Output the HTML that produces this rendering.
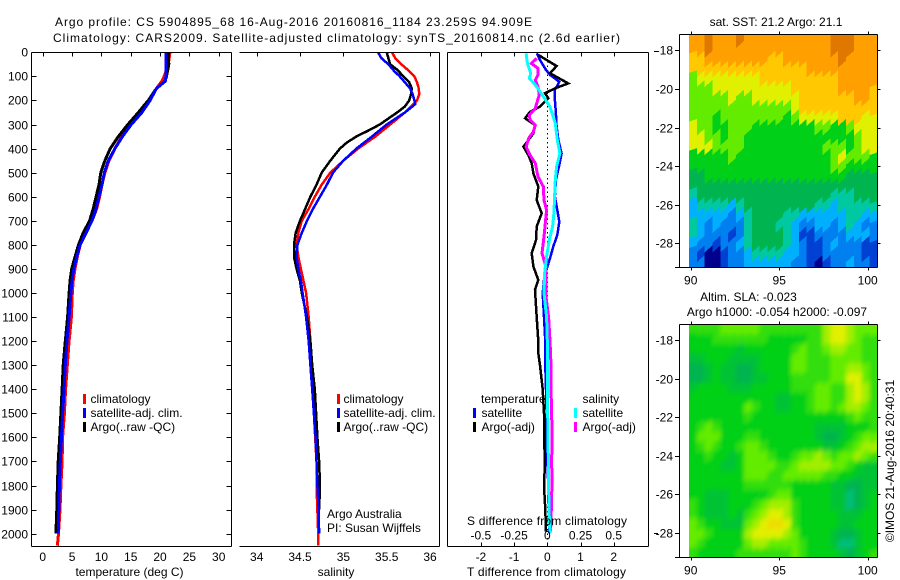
<!DOCTYPE html>
<html>
<head>
<meta charset="utf-8">
<title>Argo profile chart</title>
<style>
html,body{margin:0;padding:0;background:#fff;}
svg{display:block;}
text{font-family:"Liberation Sans",sans-serif;font-size:12px;fill:#000;}
</style>
</head>
<body>
<svg id="chart" xmlns="http://www.w3.org/2000/svg" width="900" height="580" viewBox="0 0 900 580">
<defs>
<clipPath id="clip-sst"><rect x="689" y="35" width="188" height="233"/></clipPath>
<clipPath id="clip-sla"><rect x="689" y="325" width="188" height="233"/></clipPath>
<filter id="soften" x="-10%" y="-10%" width="120%" height="120%"><feGaussianBlur stdDeviation="2"/></filter>
</defs>
<rect x="0" y="0" width="900" height="580" fill="#fff"/>
<text x="55" y="26" textLength="477" lengthAdjust="spacing">Argo profile: CS 5904895_68 16-Aug-2016 20160816_1184 23.259S 94.909E</text>
<text x="53" y="42" textLength="567" lengthAdjust="spacing">Climatology: CARS2009. Satellite-adjusted climatology: synTS_20160814.nc (2.6d earlier)</text>
<g id="plots"></g>
<g>
<rect x="83" y="394" width="3" height="10" fill="#f00"/>
<rect x="83" y="408" width="3" height="10" fill="#00f"/>
<rect x="83" y="422" width="3" height="10" fill="#000"/>
<text x="90.5" y="403">climatology</text>
<text x="90.5" y="417">satellite-adj. clim.</text>
<text x="90.5" y="431">Argo(..raw -QC)</text>
</g>
<g>
<rect x="337" y="394" width="3" height="10" fill="#f00"/>
<rect x="337" y="408" width="3" height="10" fill="#00f"/>
<rect x="337" y="422" width="3" height="10" fill="#000"/>
<text x="343.5" y="403">climatology</text>
<text x="343.5" y="417">satellite-adj. clim.</text>
<text x="343.5" y="431">Argo(..raw -QC)</text>
<text x="327" y="518">Argo Australia</text>
<text x="327" y="532">PI: Susan Wijffels</text>
</g>
<g>
<text x="481" y="403">temperature</text>
<text x="582.5" y="403">salinity</text>
<rect x="473" y="408" width="3" height="10" fill="#00f"/>
<rect x="473" y="422" width="3" height="10" fill="#000"/>
<rect x="574" y="408" width="3" height="10" fill="#0ff"/>
<rect x="574" y="422" width="3" height="10" fill="#f0f"/>
<text x="481.5" y="417">satellite</text>
<text x="481.5" y="431">Argo(-adj)</text>
<text x="582.5" y="417">satellite</text>
<text x="582.5" y="431">Argo(-adj)</text>
</g>
<text x="467" y="525" textLength="160" lengthAdjust="spacing">S difference from climatology</text>
<text x="467" y="576" textLength="159" lengthAdjust="spacing">T difference from climatology</text>
<text x="129.5" y="576" text-anchor="middle">temperature (deg C)</text>
<text x="336" y="576" text-anchor="middle">salinity</text>
<text x="776" y="26" text-anchor="middle">sat. SST: 21.2  Argo: 21.1</text>
<text x="748.5" y="301" text-anchor="middle">Altim. SLA: -0.023</text>
<text x="777" y="316" text-anchor="middle">Argo h1000: -0.054 h2000: -0.097</text>
<text transform="translate(894,461) rotate(-90)" text-anchor="middle">©IMOS 21-Aug-2016 20:40:31</text>
</svg>
<script>
// ---- axis tick labels ----
const depthTicks = [0,100,200,300,400,500,600,700,800,900,1000,1100,1200,1300,1400,1500,1600,1700,1800,1900,2000];
const tempTicks = [0,5,10,15,20,25,30];
const salTicks = [34,34.5,35,35.5,36];
const tDiffTicks = [-2,-1,0,1,2];
const sDiffTicks = [-0.5,-0.25,0,0.25,0.5];
const lonTicks = [90,95,100];
const latTicks = [-18,-20,-22,-24,-26,-28];

// ---- temperature profiles ----
const tempDepths = [0,50,100,120,150,200,250,300,350,400,450,500,550,600,650,700,750,800,850,900,950,1000,1100,1200,1300,1400,1500,1600,1700,1800,1900,2000];
const tempClimDepths = [0,50,100,120,150,200,250,300,350,400,450,500,550,600,650,700,750,800,850,900,950,1000,1100,1200,1300,1400,1500,1600,1700,1800,1900,2000,2050];
const tempClim = [21.7,21.4,20.7,20.3,19.4,18.2,16.6,15.0,13.5,12.3,11.3,10.6,10.1,9.7,9.2,8.4,7.4,6.4,5.9,5.5,5.2,5.05,4.9,4.5,4.2,3.9,3.7,3.4,3.3,3.1,2.95,2.7,2.5];
const tempArgo = [21.4,21.5,21.1,20.85,19.4,18.0,16.3,14.5,12.9,11.5,10.6,9.9,9.6,9.1,8.6,8.0,6.9,6.1,5.5,4.95,4.65,4.5,4.25,3.85,3.5,3.3,3.1,2.9,2.65,2.5,2.4,2.25];
const tempSat = [21.0,21.0,21.0,20.9,19.4,18.3,16.9,15.1,13.6,12.3,11.2,10.5,10.1,9.6,9.1,8.4,7.4,6.4,5.8,5.3,5.0,4.8,4.5,4.15,3.85,3.65,3.4,3.2,3.0,2.85,2.75,2.65];

// ---- salinity profiles ----
const salDepths = [0,25,50,75,100,125,150,175,200,215,250,300,350,400,450,500,550,600,650,700,750,800,850,900,950,1000,1100,1200,1300,1400,1500,1600,1700,1800,1900,2000];
const salClimDepths = [0,25,50,75,100,125,150,175,200,215,250,300,350,400,450,500,550,600,650,700,750,800,850,900,950,1000,1100,1200,1300,1400,1500,1600,1700,1800,1900,2000,2050];
const salClim = [35.56,35.6,35.67,35.75,35.82,35.85,35.87,35.875,35.85,35.81,35.71,35.54,35.37,35.17,35.0,34.85,34.75,34.67,34.6,34.52,34.48,34.46,34.48,34.51,34.54,34.57,34.6,34.62,34.63,34.65,34.66,34.675,34.69,34.69,34.70,34.71,34.71];
const salSat = [35.40,35.44,35.52,35.58,35.65,35.71,35.77,35.80,35.82,35.83,35.71,35.5,35.33,35.15,35.0,34.88,34.81,34.73,34.65,34.58,34.52,34.47,34.46,34.48,34.51,34.53,34.57,34.6,34.62,34.64,34.66,34.68,34.69,34.70,34.715,34.72];
const salArgoDepths = [0,25,50,75,100,125,150,175,200,225,250,275,300,325,350,375,400,450,500,550,600,650,700,750,800,850,900,950,1000,1100,1200,1300,1400,1500,1600,1700,1800,1900];
const salArgo = [35.5,35.52,35.54,35.63,35.69,35.76,35.79,35.78,35.76,35.71,35.62,35.52,35.42,35.29,35.15,35.04,34.96,34.85,34.75,34.69,34.62,34.56,34.5,34.45,34.43,34.43,34.46,34.5,34.52,34.58,34.62,34.64,34.67,34.685,34.7,34.72,34.73,34.72];

// ---- difference profiles ----
const tDiffSatDepths = [4,32,73,94,122,157,198,253,309,364,420,468,530,600,655,704,759,807,856,891,946,1001,1100,1200,1300,1400,1500,1600,1700,1800,1900,2000];
const tDiffSat = [-0.32,-0.22,-0.04,0.08,0.36,0.23,0.23,0.26,0.28,0.33,0.43,0.36,0.26,0.23,0.30,0.36,0.30,0.18,0.08,0,-0.10,-0.14,-0.10,-0.06,-0.06,-0.04,-0.02,-0.02,0,0.03,0.04,0.06];
const tDiffArgoDepths = [11,32,57,87,129,150,170,191,226,247,274,302,337,392,427,461,503,558,614,669,724,780,835,890,946,987,1100,1200,1250,1300,1400,1500,1600,1700,1800,1900,1990];
const tDiffArgo = [-0.27,-0.02,0.28,0.08,0.63,0.23,-0.07,0.03,-0.22,-0.52,-0.67,-0.37,-0.42,-0.72,-0.57,-0.47,-0.42,-0.27,-0.32,-0.17,-0.32,-0.34,-0.47,-0.42,-0.27,-0.37,-0.32,-0.27,-0.27,-0.22,-0.14,-0.10,-0.10,-0.07,-0.10,-0.06,-0.04];
const sDiffSatDepths = [4,46,87,108,143,184,226,295,364,420,475,530,600,669,724,780,849,918,1001,1100,1200,1300,1400,1500,1600,1700,1800,1900,2000];
const sDiffSat = [-0.16,-0.15,-0.125,-0.135,-0.08,-0.03,0.02,0.06,0.075,0.095,0.07,0.06,0.055,0.05,0.04,0.015,-0.005,-0.02,-0.025,-0.005,0,0,0,0.003,0.005,0.008,0.01,0.013,0.02];
const sDiffArgoDepths = [25,46,67,94,115,143,177,212,233,260,281,302,330,357,392,427,461,517,558,614,655,710,766,835,890,946,1015,1100,1200,1300,1400,1500,1600,1700,1800,1900,1990];
const sDiffArgo = [-0.08,-0.12,-0.07,-0.07,-0.09,-0.07,-0.06,-0.08,-0.09,-0.135,-0.13,-0.09,-0.105,-0.14,-0.16,-0.13,-0.09,-0.07,-0.03,-0.025,-0.005,-0.015,-0.025,-0.04,-0.01,-0.01,-0.01,0.01,0.02,0.028,0.028,0.033,0.035,0.033,0.035,0.03,0.025];

// ---- map grids (colour level per cell, north to south) ----
const sstGrid = [
[10,10,11,10,10,10,11,10,10,10,10,10,10,10,10,10,10,10,11,11,11,10,10,10],
[10,10,11,10,10,10,10,10,10,10,10,10,10,10,10,10,10,10,11,11,11,10,10,10],
[9,9,10,10,10,10,10,10,10,10,9,9,10,10,10,10,10,10,10,11,10,10,10,10],
[9,9,9,9,9,9,9,9,9,9,9,9,9,9,9,10,10,10,10,10,10,10,10,10],
[7,8,8,8,8,8,8,8,8,9,9,9,9,9,9,9,9,9,9,10,10,10,10,10],
[7,7,7,8,8,8,8,8,8,8,8,8,8,9,9,9,9,9,9,10,10,10,10,9],
[7,7,7,7,7,8,7,7,8,8,8,8,8,8,9,9,9,9,9,9,9,10,10,9],
[7,7,7,7,7,7,7,7,7,7,7,7,7,8,9,9,9,9,9,9,9,9,9,9],
[7,7,7,6,7,7,7,7,7,7,7,7,6,7,8,8,8,8,8,9,9,9,8,8],
[8,7,7,6,6,7,7,7,6,6,6,6,6,6,6,6,7,7,6,6,7,8,8,8],
[8,8,7,7,6,7,7,6,6,6,6,6,6,6,6,6,6,6,6,6,6,7,8,8],
[8,8,8,7,7,7,7,6,6,6,6,6,6,6,6,6,6,7,7,7,6,7,8,8],
[6,6,6,6,6,7,6,6,6,6,6,6,6,6,6,6,6,6,7,8,7,7,7,6],
[6,6,6,6,6,6,6,6,6,6,6,6,6,6,6,6,6,6,7,7,6,6,6,6],
[5,5,6,6,6,6,6,6,6,6,6,6,6,6,6,6,6,6,6,6,5,5,5,5],
[5,5,5,5,5,5,5,5,5,5,5,5,5,5,5,5,5,5,5,5,5,5,5,5],
[4,5,5,5,5,5,5,5,5,5,5,5,5,5,5,5,5,5,4,4,4,5,5,5],
[3,4,4,4,4,3,4,5,5,5,5,5,5,5,5,5,4,4,3,4,4,4,4,4],
[3,3,3,3,3,2,3,4,5,5,5,5,4,4,3,3,3,3,3,3,4,4,3,3],
[4,3,2,3,2,2,2,4,5,5,5,4,4,3,2,2,3,3,2,3,4,3,2,2],
[4,3,2,2,2,1,2,4,5,5,5,5,4,3,1,1,2,2,2,2,3,3,3,2],
[3,2,2,1,2,2,3,4,5,5,5,5,4,3,2,1,1,2,3,2,2,2,1,1],
[2,1,0,0,1,2,2,3,4,4,4,4,3,3,2,1,1,2,2,2,2,2,1,1],
[2,2,0,0,1,2,2,3,3,3,3,3,3,2,2,1,0,1,2,2,3,2,2,1]
];
const slaGrid = [
[6.5,6.5,6.5,6.5,7,7,7,7,7,6.5,6.5,6.5,6.5,6.5,6.5,6.5,6.5,7.5,8,8,7.5,7,7,7],
[6,6,6,6.5,6.5,6.5,6.5,6.5,6.5,6.5,6,6,6,6,6,6.5,6.5,7.5,8,8,7.5,7,6.5,6.5],
[6,6,6,6,6,6,5.5,6,6,6,6,6,6,6.5,7,6.5,6.5,7,7.5,7.5,7,7,6.5,6.5],
[5.5,5.5,6,6,6,5.5,5.5,5.5,5.5,6,6,6,6,7,7,6.5,6.5,6.5,7,7,7,7,6.5,6.5],
[5,5,5.5,6,5.5,5.5,5,5,5.5,6,6,6,6,7,7,6.5,6.5,6.5,7,7,7.5,7.5,7,6.5],
[5,5,5.5,6,5.5,5.5,5,5,5.5,5.5,6,6,6,6.5,6.5,6.5,6.5,6.5,7,7,8,8,7,6.5],
[5.5,6,6,6,6,5.5,5.5,5.5,6,6,6,6,6,6.5,6.5,6.5,7,7,6.5,6.5,7.5,8,7.5,6.5],
[6,6,6,6,6,6,6,6,6,6,6,5.5,5.5,6,6,6.5,7,7,6.5,6.5,7.5,8,7.5,6.5],
[6,6,6,6,6,6,6,7,6.5,6,6,5.5,5.5,6,6,6.5,7,7,6.5,7,7.5,7.5,7,6.5],
[6,6,6,6,6,6,6,6.5,6,6,6,6,6,6,6,6,6,6,6,6,6.5,7,6.5,6.5],
[6,6.5,7,6.5,6,6,6,6,6,6,6,6,6,6,6,6,5.5,5.5,5.5,5.5,6,6,6,6.5],
[6,7,7,7,6,6,6,6.5,6.5,6,6,6,6,6,6,6,5.5,5,5,5.5,6,6.5,7,7],
[6,6.5,7,6.5,6,6,6.5,7,7,6.5,6,6,6,6,6,6,6,5.5,5.5,6,6.5,7,7.5,7.5],
[6,6,6.5,6,6,5.5,6,7,7,7,6.5,6,6,6.5,7,7,7.5,7,6.5,7,7,7.5,7,6.5],
[6,6,6,6,5.5,5.5,6,7,7,7,7,6.5,6.5,7,7.5,7.5,7.5,7.5,7,7,6.5,6,5.5,5.5],
[6,6,6,6,6,6,6,7,7,7,6.5,6.5,7,7,7,7,7,6.5,6.5,6,6,5.5,5.5,5.5],
[6,6,6,6,6,6,6,6.5,6.5,6.5,6.5,6.5,6.5,6,6,6,6,6,5.5,5.5,5,5,5.5,5.5],
[6,6,5.5,5.5,5.5,6,6,6,6,6,6.5,7,7,6,6,6,6,6,5.5,5.5,4.5,5,5.5,6],
[6.5,6,5.5,5.5,5.5,6,6,6,6.5,7,7.5,7.5,7.5,6.5,6,6,6,6,5.5,5.5,4.5,5,5.5,6],
[6.5,6,5.5,5.5,5.5,6,5.5,6.5,7,7.5,8,8,7.5,6.5,6,6,6,6,6,5.5,5.5,5.5,6,6],
[7,6.5,6,6,5.5,5.5,5.5,7,7.5,8,8.5,8.5,8,6.5,6,6,6,6,6,5.5,5.5,6,6,6],
[7,7,6.5,6,6,6,6,7.5,8,8,8,8,7.5,7,6,6,6,6,5.5,5,5,5.5,6,6],
[7,6.5,6,6,6,6,6,7,7.5,7.5,7,7,7,7,6.5,6,6,6,5.5,4.5,4.5,5.5,6,6],
[6.5,6,6,6,6,6,6.5,6.5,6.5,6.5,6.5,6.5,6.5,7,6.5,6,6,6,6,5.5,5,5.5,6,6.5]
];

const NS = 'http://www.w3.org/2000/svg';
const plots = document.getElementById('plots');
const colorStops = ['0,0,140','0,64,210','0,128,240','0,176,255','0,200,160','0,180,80','0,208,24','100,236,0','224,240,0','255,200,0','255,160,0','224,120,0'];

// ---- axis functions ----
const depthY = d => 52.3 + d * 0.2407;
const tempX = t => 42.7 + t * 5.867;
const salX = s => 256.7 + (s - 34) * 86.67;
const tDiffX = t => 547.3 + t * 33.2;
const sDiffX = s => 547.3 + s * 132.8;
const lonX = lon => 690.7 + (lon - 90) * 17.7;
const sstLatY = lat => 50.3 + (-18 - lat) * 19.3;
const slaLatY = lat => 340 + (-18 - lat) * 19.3;

function seg(parent, x1, y1, x2, y2, name) {
  const el = document.createElementNS(NS, 'line');
  el.setAttribute('x1', x1);
  el.setAttribute('y1', y1);
  el.setAttribute('x2', x2);
  el.setAttribute('y2', y2);
  el.setAttribute('stroke', '#000');
  el.setAttribute('stroke-width', 1);
  el.setAttribute('shape-rendering', 'crispEdges');
  
  
  parent.appendChild(el);
  return el;
}
function label(parent, x, y, str, anchor, name) {
  const el = document.createElementNS(NS, 'text');
  el.setAttribute('x', x);
  el.setAttribute('y', y);
  el.setAttribute('text-anchor', anchor);
  el.textContent = str;
  
  
  parent.appendChild(el);
  return el;
}
function group(parent, name) {
  const el = document.createElementNS(NS, 'g');
  
  
  parent.appendChild(el);
  return el;
}
function series(parent, depths, values, xf, color, width, name) {
  const el = document.createElementNS(NS, 'polyline');
  const pts = depths.map((d, i) => xf(values[i]).toFixed(1) + ',' + depthY(d).toFixed(1));
  el.setAttribute('points', pts.join(' '));
  el.setAttribute('fill', 'none');
  el.setAttribute('stroke', color);
  el.setAttribute('stroke-width', width);
  el.setAttribute('shape-rendering', 'crispEdges');
  
  
  parent.appendChild(el);
  return el;
}

// ---- temperature panel ----
const p1 = group(plots, 'temperature-panel');
series(p1, tempClimDepths, tempClim, tempX, '#f00', 3, 'temperature-climatology-line');
series(p1, tempDepths, tempArgo, tempX, '#000', 3, 'temperature-argo-line');
series(p1, tempDepths, tempSat, tempX, '#00f', 3, 'temperature-satellite-line');
seg(p1, 31.5, 52.5, 231.5, 52.5, 'top-spine');
seg(p1, 31.5, 546.5, 231.5, 546.5, 'x-axis');
seg(p1, 31.5, 52.5, 31.5, 546.5, 'y-axis');
seg(p1, 231.5, 52.5, 231.5, 546.5, 'right-spine');
depthTicks.forEach(d => {
  const y = Math.round(depthY(d)) + 0.5;
  seg(p1, 31.5, y, 36.5, y, 'depth-tick');
  seg(p1, 226.5, y, 231.5, y, 'depth-tick-right');
  label(p1, 28, y + 4, String(d), 'end', 'depth-tick-label');
});
tempTicks.forEach(t => {
  const x = Math.round(tempX(t)) + 0.5;
  seg(p1, x, 52.5, x, 56.5, 'temperature-tick');
  label(p1, tempX(t), 561, String(t), 'middle', 'temperature-tick-label');
});

// ---- salinity panel ----
const p2 = group(plots, 'salinity-panel');
series(p2, salClimDepths, salClim, salX, '#f00', 2.5, 'salinity-climatology-line');
series(p2, salArgoDepths, salArgo, salX, '#000', 2.5, 'salinity-argo-line');
series(p2, salDepths, salSat, salX, '#00f', 2.5, 'salinity-satellite-line');
seg(p2, 239.5, 52.5, 439.5, 52.5, 'top-spine');
seg(p2, 239.5, 546.5, 439.5, 546.5, 'x-axis');
seg(p2, 439.5, 52.5, 439.5, 546.5, 'right-spine');
salTicks.forEach(s => {
  const x = Math.round(salX(s)) + 0.5;
  seg(p2, x, 52.5, x, 56.5, 'salinity-tick');
  label(p2, salX(s), 561, String(s), 'middle', 'salinity-tick-label');
});

// ---- difference panel ----
const p3 = group(plots, 'difference-panel');
const zero = seg(p3, 547.5, 52, 547.5, 546, 'zero-line');
zero.setAttribute('stroke-dasharray', '1.5 3');
series(p3, tDiffSatDepths, tDiffSat, tDiffX, '#00f', 2.5, 't-difference-satellite-line');
series(p3, tDiffArgoDepths, tDiffArgo, tDiffX, '#000', 2.5, 't-difference-argo-line');
series(p3, sDiffArgoDepths, sDiffArgo, sDiffX, '#f0f', 3, 's-difference-argo-line');
series(p3, sDiffSatDepths, sDiffSat, sDiffX, '#0ff', 3, 's-difference-satellite-line');
seg(p3, 447.5, 52.5, 648.5, 52.5, 'top-spine');
seg(p3, 447.5, 546.5, 648.5, 546.5, 'x-axis');
seg(p3, 447.5, 52.5, 447.5, 546.5, 'left-spine');
seg(p3, 648.5, 52.5, 648.5, 546.5, 'right-spine');
seg(p3, 654, 51.5, 658, 51.5, 'outer-depth-tick-top');
seg(p3, 654, 533.5, 658, 533.5, 'outer-depth-tick-bottom');
tDiffTicks.forEach(t => {
  const x = Math.round(tDiffX(t)) + 0.5;
  seg(p3, x, 52.5, x, 56.5, 't-difference-tick-top');
  seg(p3, x, 542.5, x, 546.5, 't-difference-tick');
  label(p3, tDiffX(t), 561, String(t), 'middle', 't-difference-tick-label');
});
sDiffTicks.forEach(s => {
  label(p3, sDiffX(s), 539.5, String(s), 'middle', 's-difference-tick-label');
});

// ---- maps ----
function levelColor(v) {
  const i = Math.min(Math.floor(v), colorStops.length - 2);
  const f = v - i;
  const a = colorStops[i].split(',').map(Number);
  const b = colorStops[i + 1].split(',').map(Number);
  return 'rgb(' + a.map((c, k) => Math.round(c + (b[k] - c) * f)).join(',') + ')';
}
function drawMap(name, grid, latY, clipId, shear, blur) {
  const g = group(plots, name);
  const clip = group(g, name + '-image');
  clip.setAttribute('clip-path', 'url(#' + clipId + ')');
  const cells = group(clip, name + '-cells');
  if (blur) cells.setAttribute('filter', 'url(#soften)');
  const rows = grid.length;
  const cols = grid[0].length;
  const lon0 = 89.9, lonStep = 10.65 / cols;
  const lat0 = -17.2, latStep = 12.1 / rows;
  grid.forEach((row, r) => {
    row.forEach((v, c) => {
      const xa = lonX(lon0 + c * lonStep) - (c === 0 ? 12 : 0);
      const xb = lonX(lon0 + (c + 1) * lonStep) + (c === cols - 1 ? 12 : 0);
      const ya = latY(lat0 - r * latStep) - shear / 2;
      const yb = latY(lat0 - (r + 1) * latStep) - shear / 2;
      const topL = r === 0 ? ya - 12 : ya + shear;
      const topR = r === 0 ? ya - 12 : ya;
      const botL = r === rows - 1 ? yb + 20 : yb + shear + 1;
      const botR = r === rows - 1 ? yb + 20 : yb + 1;
      const cell = document.createElementNS(NS, 'polygon');
      cell.setAttribute('points', [xa, topL, xb, topR, xb, botR, xa, botL].map(n => n.toFixed(1)).join(' '));
      cell.setAttribute('fill', levelColor(v));
      cell.setAttribute('shape-rendering', 'crispEdges');
      
      
      cells.appendChild(cell);
    });
  });
  const t = Math.floor(latY(-17.2)) + 0.5;
  const b = t + 233;
  seg(g, 679.5, t, 877.5, t, 'map-top-spine');
  seg(g, 679.5, b, 877.5, b, 'map-x-axis');
  seg(g, 679.5, t, 679.5, b, 'map-y-axis');
  seg(g, 877.5, t, 877.5, b, 'map-right-spine');
  seg(g, 675, b, 679.5, b, 'map-corner-tick');
  lonTicks.forEach(lon => {
    const x = Math.round(lonX(lon)) + 0.5;
    seg(g, x, t - 3, x, t, 'longitude-tick-top');
    seg(g, x, b, x, b + 3, 'longitude-tick');
    label(g, lonX(lon), b + 17, String(lon), 'middle', 'longitude-tick-label');
  });
  latTicks.forEach(lat => {
    const y = Math.round(latY(lat)) + 0.5;
    seg(g, 675, y, 679.5, y, 'latitude-tick');
    seg(g, 877.5, y, 880.5, y, 'latitude-tick-right');
    label(g, 673, y + 4, String(lat), 'end', 'latitude-tick-label');
  });
}
drawMap('sst-map', sstGrid, sstLatY, 'clip-sst', 7, false);
drawMap('sla-map', slaGrid, slaLatY, 'clip-sla', 5, true);
</script>
</body>
</html>
